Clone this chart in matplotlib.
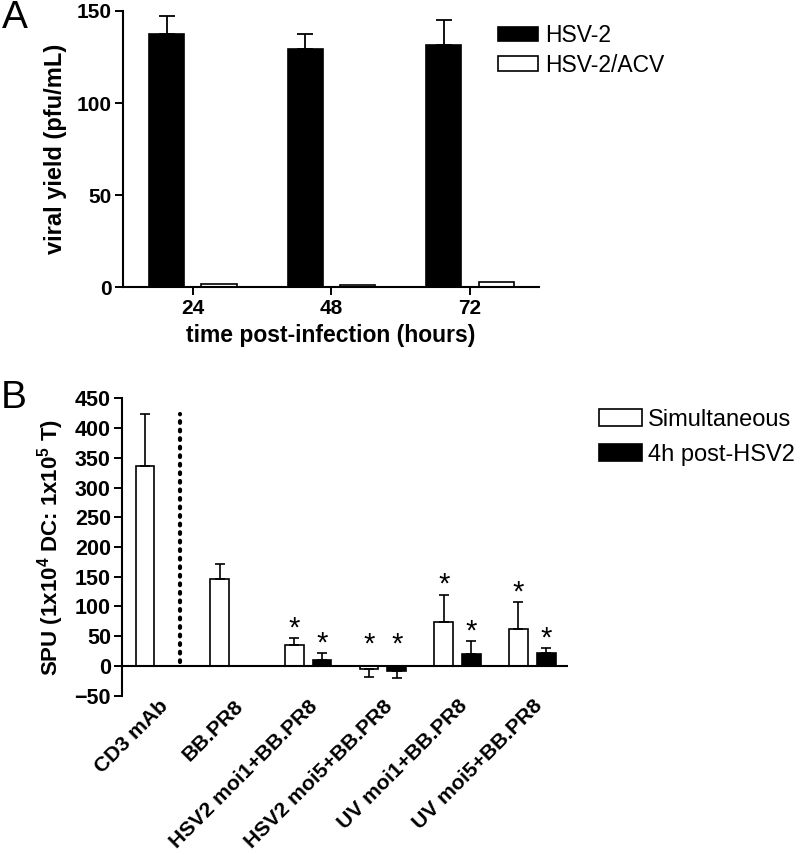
import matplotlib
matplotlib.use('Agg')
import matplotlib.pyplot as plt
import numpy as np
from matplotlib.patches import Patch

plt.rcParams['font.family'] = ['Liberation Sans', 'DejaVu Sans']
plt.rcParams['mathtext.fontset'] = 'custom'
plt.rcParams['mathtext.rm'] = 'Liberation Sans'
plt.rcParams['mathtext.bf'] = 'Liberation Sans:bold'

# ---------------- Panel A data ----------------
time_labels = ['24', '48', '72']
hsv2_mean = [137.3, 129.2, 131.4]
hsv2_err = [10.2, 8.5, 13.7]
acv_mean = [2.0, 1.0, 2.7]
a_yticks = [0, 50, 100, 150]

# ---------------- Panel B data ----------------
b_categories = ['CD3 mAb', 'BB.PR8', 'HSV2 moi1+BB.PR8', 'HSV2 moi5+BB.PR8',
                'UV moi1+BB.PR8', 'UV moi5+BB.PR8']
sim_mean = [336.0, 147.0, 35.0, -4.5, 73.6, 62.4]
sim_err = [88.0, 25.0, 12.0, 14.5, 46.0, 44.6]
post_mean = [np.nan, np.nan, 10.7, -7.8, 19.7, 21.9]
post_err = [np.nan, np.nan, 11.3, 12.9, 21.9, 8.4]
sim_star = [False, False, True, True, True, True]
post_star = [False, False, True, True, True, True]
b_yticks = list(range(-50, 451, 50))

W, H = 800, 855
fig = plt.figure(figsize=(W / 100, H / 100), dpi=100)

def bold_ticks(ax):
    for lab in ax.get_xticklabels() + ax.get_yticklabels():
        lab.set_fontweight('bold')

# ---------------- Panel A ----------------
axA = fig.add_axes([123 / W, 1 - 287.3 / H, 416 / W, 276.3 / H])
xa = np.arange(len(time_labels))
wa, offa = 0.253, 0.188
ekw = dict(ecolor='black', elinewidth=1.3, capsize=6, capthick=1.3)
axA.bar(xa - offa, hsv2_mean, wa, color='black', edgecolor='black', linewidth=1.2,
        yerr=[np.zeros(len(hsv2_err)), hsv2_err], error_kw=ekw, label='HSV-2')
axA.bar(xa + offa, acv_mean, wa, color='white', edgecolor='black', linewidth=1.2,
        label='HSV-2/ACV')
axA.set_xlim(-0.505, 2.498)
axA.set_ylim(0, 150)
axA.set_yticks(a_yticks)
axA.set_xticks(xa)
axA.set_xticklabels(time_labels)
for s in ['top', 'right']:
    axA.spines[s].set_visible(False)
for s in ['left', 'bottom']:
    axA.spines[s].set_linewidth(1.5)
axA.tick_params(axis='y', direction='out', length=6, width=1.4, labelsize=15, pad=2)
axA.tick_params(axis='x', direction='out', length=5.5, width=1.4, labelsize=15, pad=3)
bold_ticks(axA)
axA.set_ylabel('viral yield (pfu/mL)', fontsize=17, fontweight='bold', labelpad=7)
axA.set_xlabel('time post-infection (hours)', fontsize=16.5, fontweight='bold', labelpad=4)

legA = fig.legend(handles=[Patch(facecolor='black', edgecolor='black', linewidth=1.2),
                           Patch(facecolor='white', edgecolor='black', linewidth=1.2)],
                  labels=['HSV-2', 'HSV-2/ACV'],
                  loc='upper left', bbox_to_anchor=(498 / W, 1 - 24 / H),
                  frameon=False, fontsize=16.5, handlelength=1.75, handleheight=0.62,
                  handletextpad=0.3, labelspacing=0.3, borderpad=0, borderaxespad=0)

# ---------------- Panel B ----------------
axB = fig.add_axes([122 / W, 1 - 695.7 / H, 446 / W, 297.4 / H])
xb = np.arange(len(b_categories))
wb, offb = 0.25, 0.371
sm = np.array(sim_mean); se = np.array(sim_err)
pm = np.array(post_mean); pe = np.array(post_err)
sim_yerr = [np.where(sm < 0, se, 0), np.where(sm >= 0, se, 0)]
post_yerr = [np.where(pm < 0, pe, 0), np.where(pm >= 0, pe, 0)]
ekwb = dict(ecolor='black', elinewidth=1.2, capsize=3.3, capthick=1.2)
axB.bar(xb, sm, wb, color='white', edgecolor='black', linewidth=1.2,
        yerr=sim_yerr, error_kw=ekwb, label='Simultaneous')
axB.bar(xb + offb, pm, wb, color='black', edgecolor='black', linewidth=1.2,
        yerr=post_yerr, error_kw=ekwb, label='4h post-HSV2')
axB.axhline(0, color='black', linewidth=1.5, zorder=3)
axB.plot([0.47, 0.47], [7, 424], color='black', linewidth=3,
         linestyle=(0, (0.4, 1.65)), dash_capstyle='round')

def star_y(m, e):
    top = m + e if m >= 0 else 0
    return max(top, 20) + 3

for i in range(len(b_categories)):
    if sim_star[i]:
        axB.text(xb[i], star_y(sm[i], se[i]), '*', ha='center', va='baseline',
                 fontsize=21)
    if post_star[i]:
        axB.text(xb[i] + offb, star_y(pm[i], pe[i]), '*', ha='center', va='baseline',
                 fontsize=21)

axB.set_xlim(-0.308, 5.663)
axB.set_ylim(-50, 450)
axB.set_yticks(b_yticks)
axB.set_xticks(xb + offb / 2)
axB.set_xticklabels(b_categories, rotation=45, ha='right', rotation_mode='anchor')
for s in ['top', 'right', 'bottom']:
    axB.spines[s].set_visible(False)
axB.spines['left'].set_linewidth(1.5)
axB.tick_params(axis='x', length=0, labelsize=15.2, pad=0.5)
axB.tick_params(axis='y', direction='out', length=6, width=1.4, labelsize=15.5, pad=2)
bold_ticks(axB)
axB.set_ylabel(r'SPU (1x10$^{\mathbf{4}}$ DC: 1x10$^{\mathbf{5}}$ T)', fontsize=16,
               fontweight='bold', labelpad=6)

legB = fig.legend(handles=[Patch(facecolor='white', edgecolor='black', linewidth=1.2),
                           Patch(facecolor='black', edgecolor='black', linewidth=1.2)],
                  labels=['Simultaneous', '4h post-HSV2'],
                  loc='upper left', bbox_to_anchor=(599 / W, 1 - 409 / H),
                  frameon=False, fontsize=17, handlelength=1.81, handleheight=0.71,
                  handletextpad=0.27, labelspacing=0.55, borderpad=0, borderaxespad=0)

fig.text(2 / W, 1 - 0 / H, 'A', fontsize=28, ha='left', va='top')
fig.text(1 / W, 1 - 380 / H, 'B', fontsize=28, ha='left', va='top')

fig.savefig('out.png', dpi=100)
